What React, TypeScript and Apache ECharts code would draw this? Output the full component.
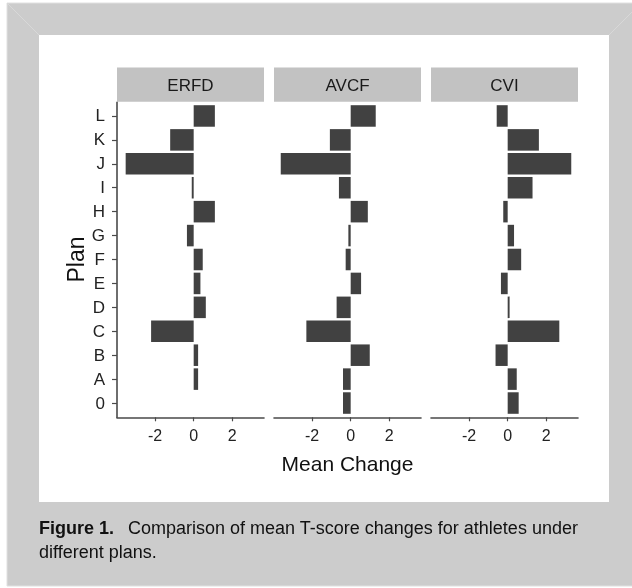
import React, { useEffect, useRef } from "react";
import * as echarts from "echarts";

const plans = ["0", "A", "B", "C", "D", "E", "F", "G", "H", "I", "J", "K", "L"];
const facets = ["ERFD", "AVCF", "CVI"];
const erfd = [0, 0.23, 0.23, -2.21, 0.63, 0.35, 0.47, -0.35, 1.1, -0.1, -3.53, -1.22, 1.1];
const avcf = [-0.4, -0.4, 0.99, -2.3, -0.73, 0.54, -0.26, -0.12, 0.89, -0.61, -3.63, -1.08, 1.3];
const cvi = [0.57, 0.47, -0.63, 2.68, 0.1, -0.35, 0.7, 0.33, -0.23, 1.29, 3.3, 1.62, -0.57];
const xTicks = [-2, 0, 2];
const xMin = -3.98;
const xMax = 3.65;

const FONT = "Liberation Sans, Arial, Helvetica, sans-serif";

export default function App() {
  const ref = useRef<HTMLDivElement>(null);

  useEffect(() => {
    if (!ref.current) return;
    const chart = echarts.init(ref.current, undefined, { renderer: "svg" });
    const seriesData = [erfd, avcf, cvi];
    const lefts = [117, 274, 431];
    const panelW = 147;
    const gridTop = 104;
    const gridH = 311;
    const axisColor = "#4a4a4a";

    const graphic: any[] = [
      { type: "rect", z: -10, shape: { x: 0, y: 0, width: 632, height: 588 }, style: { fill: "#ffffff" } },
      { type: "rect", z: -9, shape: { x: 7, y: 3, width: 626, height: 583 }, style: { fill: "#cccccc", stroke: "#e0e0e0", lineWidth: 1 } },
      { type: "line", z: -8, shape: { x1: 7, y1: 3, x2: 39, y2: 35 }, style: { stroke: "#d8d8d8", lineWidth: 1 } },
      { type: "line", z: -8, shape: { x1: 632, y1: 12, x2: 609, y2: 35 }, style: { stroke: "#d8d8d8", lineWidth: 1 } },
      { type: "rect", z: -7, shape: { x: 39, y: 35, width: 570, height: 467 }, style: { fill: "#ffffff" } },
      {
        type: "line",
        z: 5,
        shape: { x1: 117, y1: 101.7, x2: 117, y2: 418 },
        style: { stroke: axisColor, lineWidth: 1.6 },
      },
      {
        type: "text",
        z: 5,
        x: 39,
        y: 540,
        style: {
          text: "{b|Figure 1.}  Comparison of mean T-score changes for athletes under\ndifferent plans.",
          fontSize: 18,
          fontFamily: FONT,
          fill: "#111111",
          lineHeight: 24,
          verticalAlign: "middle",
          rich: {
            b: { fontWeight: "bold", fontSize: 18, fontFamily: FONT, fill: "#111111", lineHeight: 24, padding: [0, 4, 0, 0] },
          },
        },
      },
    ];

    facets.forEach((f, i) => {
      graphic.push({
        type: "rect",
        z: -5,
        shape: { x: lefts[i], y: 67.5, width: panelW, height: 34.2 },
        style: { fill: "#c2c2c2" },
      });
      graphic.push({
        type: "text",
        z: 5,
        x: lefts[i] + panelW / 2,
        y: 85,
        style: {
          text: f,
          fontSize: 17,
          fontFamily: FONT,
          fill: "#1a1a1a",
          align: "center",
          verticalAlign: "middle",
        },
      });
    });

    const option: any = {
      animation: false,
      backgroundColor: "transparent",
      graphic,
      grid: lefts.map((l) => ({ left: l, top: gridTop, width: panelW, height: gridH, containLabel: false })),
      xAxis: lefts.map((_, i) => ({
        type: "value",
        gridIndex: i,
        min: xMin,
        max: xMax,
        offset: 2.3,
        name: i === 1 ? "Mean Change" : "",
        nameLocation: "middle",
        nameGap: 36,
        nameTextStyle: { fontSize: 21, fontFamily: FONT, color: "#111111" },
        axisLine: { show: true, onZero: false, lineStyle: { color: axisColor, width: 1.6 } },
        axisTick: { show: true, length: 4, customValues: xTicks, lineStyle: { color: axisColor, width: 1.2 } },
        axisLabel: { show: true, customValues: xTicks, margin: 10, fontSize: 16, fontFamily: FONT, color: "#222222" },
        splitLine: { show: false },
      })),
      yAxis: lefts.map((_, i) => ({
        type: "category",
        gridIndex: i,
        data: plans,
        name: i === 0 ? "Plan" : "",
        nameLocation: "middle",
        nameGap: 23,
        nameTextStyle: { fontSize: 23, fontFamily: FONT, color: "#111111" },
        axisLine: { show: false, onZero: false },
        axisTick: { show: i === 0, length: 5, alignWithLabel: true, lineStyle: { color: axisColor, width: 1.2 } },
        axisLabel: { show: i === 0, margin: 12, fontSize: 17, fontFamily: FONT, color: "#222222" },
        splitLine: { show: false },
      })),
      series: seriesData.map((d, i) => ({
        type: "bar",
        xAxisIndex: i,
        yAxisIndex: i,
        data: d,
        barWidth: "90%",
        itemStyle: { color: "#414141" },
      })),
    };

    chart.setOption(option);
    return () => chart.dispose();
  }, []);

  return (
    <div
      ref={ref}
      style={{ position: "fixed", left: 0, top: 0, width: 632, height: 588 }}
    />
  );
}
